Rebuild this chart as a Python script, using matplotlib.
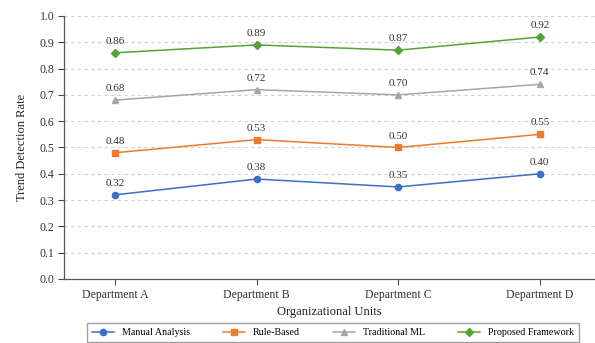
import matplotlib
matplotlib.use("Agg")
import matplotlib.pyplot as plt

plt.rcParams["font.family"] = ["Liberation Serif", "DejaVu Serif"]

departments = ["Department A", "Department B", "Department C", "Department D"]
manual_analysis = [0.32, 0.38, 0.35, 0.40]
rule_based = [0.48, 0.53, 0.50, 0.55]
traditional_ml = [0.68, 0.72, 0.70, 0.74]
proposed_framework = [0.86, 0.89, 0.87, 0.92]
y_ticks = [0.0, 0.1, 0.2, 0.3, 0.4, 0.5, 0.6, 0.7, 0.8, 0.9, 1.0]

series = [
    ("Manual Analysis", manual_analysis, "#3d6fc4", "o", 4.5),
    ("Rule-Based", rule_based, "#ee7b2c", "s", 4.3),
    ("Traditional ML", traditional_ml, "#a6a6a6", "^", 4.5),
    ("Proposed Framework", proposed_framework, "#56a333", "D", 3.6),
]

fig = plt.figure(figsize=(5.95, 3.43), dpi=100)
ax = fig.add_axes([0.1076, 0.1866, 0.8924, 0.7668])

x = list(range(len(departments)))
for name, vals, color, marker, ms in series:
    ax.plot(x, vals, color=color, marker=marker, markersize=ms, linewidth=1.1, label=name)
    for xi, v in zip(x, vals):
        ax.annotate(f"{v:.2f}", (xi, v), textcoords="offset points", xytext=(0, 5),
                    ha="center", va="bottom", fontsize=8, color="#333333")

ax.set_xlim(-0.36, 3.39)
ax.set_ylim(0, 1.0)
ax.set_xticks(x)
ax.set_xticklabels(departments, fontsize=8.5)
ax.set_yticks(y_ticks)
ax.set_yticklabels([f"{t:.1f}" for t in y_ticks], fontsize=8.5)
ax.tick_params(colors="#444444", labelcolor="#333333", length=4, width=0.8, pad=3)
ax.yaxis.grid(True, linestyle=(0, (3, 3)), color="#d0d0d0", linewidth=0.8)
ax.set_axisbelow(True)
for side in ("top", "right"):
    ax.spines[side].set_visible(False)
for side in ("left", "bottom"):
    ax.spines[side].set_color("#555555")
    ax.spines[side].set_linewidth(0.9)

ax.set_xlabel("Organizational Units", fontsize=9, color="#222222", labelpad=4)
ax.set_ylabel("Trend Detection Rate", fontsize=9, color="#222222", labelpad=8)

fig.legend(loc="upper center", bbox_to_anchor=(0.5597, 1 - 323 / 343), ncol=4,
           fontsize=7.2, frameon=True, fancybox=False, edgecolor="#888888",
           handlelength=2.2, columnspacing=3.3, borderpad=0.5, borderaxespad=0,
           handletextpad=0.8)

fig.savefig("out.png", dpi=100)
